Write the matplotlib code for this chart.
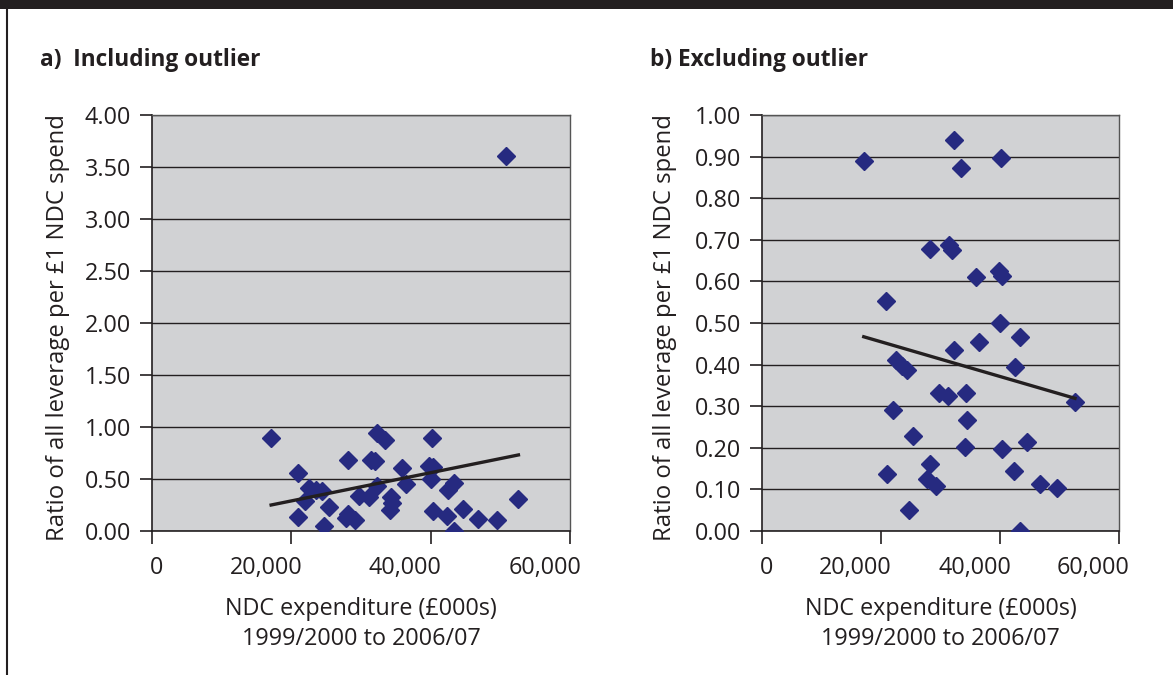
import numpy as np
import matplotlib.pyplot as plt
import matplotlib.transforms as mtransforms
from matplotlib.ticker import FuncFormatter

plt.rcParams['font.family'] = ['Open Sans', 'DejaVu Sans']

# NDC expenditure (£000s) and leverage ratio per partnership, outlier removed
spend = [17100, 32300, 40200, 33400, 28200, 31400, 32000, 35900, 39800, 40400,
         20900, 40000, 36500, 43400, 32300, 22600, 23600, 24400, 42500, 29700,
         31200, 34300, 52600, 22000, 34400, 25400, 44600, 34100, 40300, 28200,
         42400, 21000, 27800, 29200, 46800, 49500, 24700, 43400]
ratio = [0.89, 0.94, 0.897, 0.872, 0.678, 0.687, 0.676, 0.61, 0.625, 0.614,
         0.554, 0.50, 0.454, 0.466, 0.434, 0.41, 0.396, 0.386, 0.394, 0.332,
         0.325, 0.331, 0.309, 0.29, 0.267, 0.228, 0.215, 0.202, 0.196, 0.161,
         0.145, 0.136, 0.125, 0.109, 0.113, 0.103, 0.051, 0.001]

# the one partnership left out of panel b
outlier_spend = 50800
outlier_ratio = 3.61

panels = [
    ("a)  Including outlier", spend + [outlier_spend], ratio + [outlier_ratio],
     np.arange(0, 4.01, 0.5)),
    ("b) Excluding outlier", spend, ratio, np.arange(0, 1.001, 0.1)),
]

fig = plt.figure(figsize=(11.73, 6.75), dpi=100)

# page furniture: dark band along the top, rule down the left
fig.add_artist(plt.Rectangle((0, 1 - 9 / 675), 1, 9 / 675, transform=fig.transFigure,
                             color='#231f20', lw=0))
fig.add_artist(plt.Line2D([6.5 / 1173, 6.5 / 1173], [0, 1 - 9 / 675],
                          transform=fig.transFigure, color='#231f20', lw=1.5))

boxes = [[152 / 1173, 144 / 675, 418 / 1173, 416 / 675],
         [762 / 1173, 144 / 675, 357 / 1173, 416 / 675]]
title_x = [40 / 1173, 650 / 1173]
ylab_x = [-0.196, -0.238]

ink = '#231f20'
shift = mtransforms.ScaledTranslation(0.11, 0, fig.dpi_scale_trans)
for (title, xs, ys, yticks), box, tx, lx in zip(panels, boxes, title_x, ylab_x):
    ax = fig.add_axes(box)
    ax.set_facecolor('#d1d2d4')
    ax.set_xlim(0, 60000)
    ax.set_ylim(0, yticks[-1])
    ax.set_yticks(yticks)
    ax.set_xticks([0, 20000, 40000, 60000])
    ax.yaxis.set_major_formatter(FuncFormatter(lambda v, p: f"{v:.2f}"))
    ax.xaxis.set_major_formatter(FuncFormatter(lambda v, p: f"{v:,.0f}"))
    ax.grid(axis='y', color='#231f20', lw=1.0)
    ax.set_axisbelow(True)
    for side in ['top', 'right']:
        ax.spines[side].set_color('#555555')
        ax.spines[side].set_linewidth(1.0)
    for side in ['left', 'bottom']:
        ax.spines[side].set_color(ink)
        ax.spines[side].set_linewidth(1.2)
    ax.tick_params(axis='both', direction='out', length=9, width=1.2, color=ink,
                   labelsize=16.8, labelcolor=ink)
    ax.tick_params(axis='y', pad=6)
    ax.tick_params(axis='x', pad=9)

    # x labels sit just left of their ticks, right-aligned
    for lab in ax.get_xticklabels():
        lab.set_ha('right')
        lab.set_transform(lab.get_transform() + shift)

    ax.plot(xs, ys, 'D', color='#262a80', markersize=9.5, zorder=3)

    # least-squares trend line over the data range
    slope, icept = np.polyfit(xs, ys, 1)
    xl = np.array([min(xs), max(xs)])
    ax.plot(xl, slope * xl + icept, color='#231f20', lw=2.4, zorder=4)

    ax.set_ylabel("Ratio of all leverage per £1 NDC spend", fontsize=17.2, color=ink)
    ax.yaxis.set_label_coords(lx, 0.49)
    ax.set_xlabel("NDC expenditure (£000s)\n1999/2000 to 2006/07", fontsize=16.8,
                  color=ink, labelpad=12, linespacing=1.35)
    fig.text(tx, 1 - 60 / 675, title, fontsize=16.3, fontweight='bold', color=ink,
             va='center', ha='left')

fig.savefig('out.png', dpi=100, facecolor='white')
